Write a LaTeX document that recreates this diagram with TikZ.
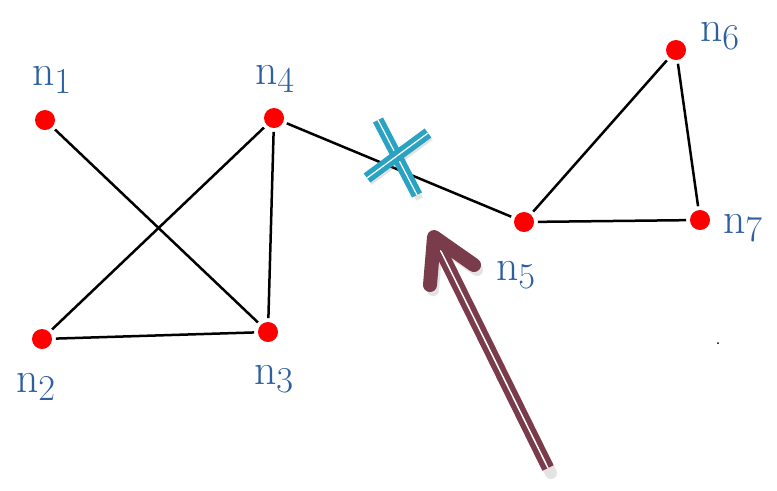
\documentclass[tikz,border=0pt]{standalone}
\usetikzlibrary{calc}
\definecolor{dotred}{HTML}{FF0000}
\definecolor{lblblue}{HTML}{2E5FA0}
\definecolor{crossteal}{HTML}{2AA3C3}
\definecolor{arrowmaroon}{HTML}{7A3B4B}
\tikzset{
  vertex/.style={circle,fill=dotred,inner sep=0pt,minimum size=0.40cm},
  lbl/.style={text=lblblue,inner sep=0pt,font=\fontsize{29}{30}\selectfont},
  edge/.style={black,line width=0.05cm,shorten <=2pt,shorten >=2pt},
  crossbar/.style={crossteal,line width=0.1cm,double=white,double distance=0.025cm},
  shade/.style={gray,opacity=0.22,line width=0.24cm,line cap=round},
  shaft/.style={arrowmaroon,line width=0.11cm,double=white,double distance=0.03cm},
  head/.style={arrowmaroon,line width=0.28cm,line cap=round,line join=round}
}
\begin{document}
\begin{tikzpicture}
\useasboundingbox (0,0) rectangle (15.54,-9.80);
% vertices
\node[vertex] (n1) at (0.90,-2.40) {};
\node[vertex] (n4) at (5.48,-2.36) {};
\node[vertex] (n2) at (0.84,-6.78) {};
\node[vertex] (n3) at (5.36,-6.64) {};
\node[vertex] (n5) at (10.48,-4.44) {};
\node[vertex] (n6) at (13.52,-1.00) {};
\node[vertex] (n7) at (14.00,-4.40) {};
% labels
\node[lbl] (l1) at (1.04,-1.60) {$\mathrm{n}_{1}$};
\node[lbl] (l4) at (5.50,-1.58) {$\mathrm{n}_{4}$};
\node[lbl] (l2) at (0.72,-7.74) {$\mathrm{n}_{2}$};
\node[lbl] (l3) at (5.48,-7.58) {$\mathrm{n}_{3}$};
\node[lbl] (l5) at (10.32,-5.50) {$\mathrm{n}_{5}$};
\node[lbl] (l6) at (14.40,-0.72) {$\mathrm{n}_{6}$};
\node[lbl] (l7) at (14.86,-4.56) {$\mathrm{n}_{7}$};
% edges
\draw[edge] (n1) -- (n3);
\draw[edge] (n4) -- (n2);
\draw[edge] (n4) -- (n3);
\draw[edge] (n2) -- (n3);
\draw[edge] (n4) -- (n5);
\draw[edge] (n5) -- (n6);
\draw[edge] (n5) -- (n7);
\draw[edge] (n6) -- (n7);
% cross mark on the broken edge
\coordinate (c1a) at (7.56,-2.40);
\coordinate (c1b) at (8.34,-3.90);
\coordinate (c2a) at (7.34,-3.56);
\coordinate (c2b) at (8.56,-2.66);
\draw[shade,line width=0.14cm,line cap=butt] ($(c1a)+(0.05,-0.08)$) -- ($(c1b)+(0.05,-0.08)$);
\draw[shade,line width=0.14cm,line cap=butt] ($(c2a)+(0.05,-0.08)$) -- ($(c2b)+(0.05,-0.08)$);
\draw[crossbar] (c1a) -- (c1b);
\draw[crossbar] (c2a) -- (c2b);
% arrow
\coordinate (tail) at (10.96,-9.36);
\coordinate (tip) at (8.68,-4.74);
\coordinate (w1) at (8.60,-5.70);
\coordinate (w2) at (9.48,-5.30);
\draw[shade] ($(w1)+(0.06,-0.10)$) -- ($(tip)+(0.06,-0.10)$) -- ($(w2)+(0.06,-0.10)$);
\draw[shade] ($(tail)+(0.06,-0.10)$) -- ($(tip)+(0.06,-0.10)$);
\draw[shaft] (tail) -- ($(tip)!0.03!(tail)$);
\draw[head] (w1) -- (tip) -- (w2);
% stray dot
\node[circle,fill=black,inner sep=0pt,minimum size=0.04cm] (sd) at (14.36,-6.86) {};
\end{tikzpicture}
\end{document}
